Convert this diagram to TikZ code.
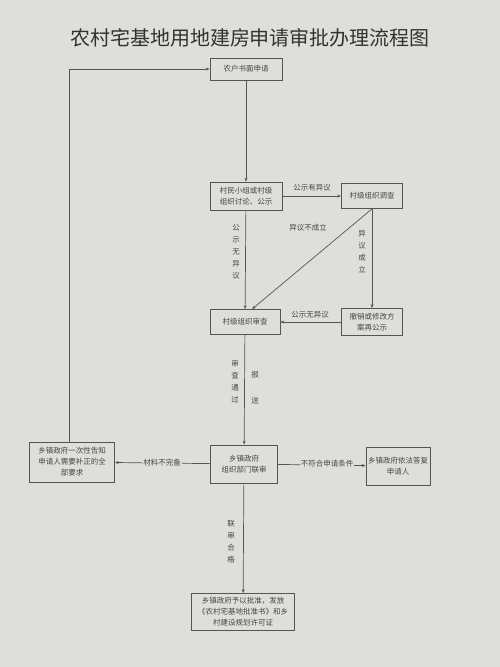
\documentclass[tikz,border=0pt]{standalone}
\usepackage{fontspec}
\setmainfont{Noto Sans CJK SC}
\usetikzlibrary{arrows.meta}
\definecolor{paper}{RGB}{222,222,218}
\definecolor{ink}{RGB}{85,85,85}
\definecolor{txt}{RGB}{70,70,70}
\begin{document}
\begin{tikzpicture}[x=1pt,y=-1pt,
  box/.style={draw=ink, line width=0.7pt, align=center, text=txt,
    font=\fontsize{7.5}{11}\selectfont, inner sep=1pt},
  lbl/.style={text=txt, font=\fontsize{7.5}{11}\selectfont, align=center, inner sep=1pt},
  vlbl/.style={text=txt, font=\fontsize{7.5}{12}\selectfont, align=center, inner sep=1pt},
  conn/.style={draw=ink, line width=0.7pt},
  arr/.style={conn, -{Stealth[length=4pt,width=3pt]}}]
\fill[paper] (0,0) rectangle (500,667);
\useasboundingbox (0,0) rectangle (500,667);

\node[text={rgb,255:red,50;green,50;blue,50}, font=\fontsize{20}{22}\selectfont] (title) at (250,38) {农村宅基地用地建房申请审批办理流程图};

\node[box, minimum width=72pt, minimum height=22pt] (b1) at (246,69) {农户书面申请};
\node[box, minimum width=72pt, minimum height=28pt] (b2) at (246,196) {村民小组或村级\\组织讨论、公示};
\node[box, minimum width=61pt, minimum height=25pt] (b3) at (372,196) {村级组织调查};
\node[box, minimum width=70pt, minimum height=25pt] (b4) at (245,322) {村级组织审查};
\node[box, minimum width=61pt, minimum height=27pt] (b5) at (372,322) {撤销或修改方\\案再公示};
\node[box, minimum width=67pt, minimum height=38pt] (b6) at (244,464) {乡镇政府\\组织部门联审};
\node[box, minimum width=85pt, minimum height=40pt] (b7) at (72,462) {乡镇政府一次性告知\\申请人需要补正的全\\部要求};
\node[box, minimum width=64pt, minimum height=38pt] (b8) at (398,466) {乡镇政府依法答复\\申请人};
\node[box, minimum width=103pt, minimum height=37pt] (b9) at (243,612) {乡镇政府予以批准，发放\\《农村宅基地批准书》和乡\\村建设规划许可证};

% connectors
\draw[arr] (b1) -- (b2);
\draw[arr] (b2) -- (b3);
\draw[arr] (b2) -- (b4);
\draw[arr] (b3.south) -- ([xshift=7pt]b4.north);
\draw[arr] (b3) -- (b5);
\draw[arr] (b5) -- (b4);
\draw[arr] (b4) -- (b6);
\draw[arr] (b6) -- (b7);
\draw[arr] (b6) -- (b8);
\draw[arr] (b6) -- (b9);
\draw[arr] ([xshift=-3pt]b7.north) |- (b1.west);

% labels
\node[lbl] (l1) at (312,188) {公示有异议};
\node[vlbl] (l2) at (236,252) {公\\示\\无\\异\\议};
\node[lbl] (l3) at (308,228) {异议不成立};
\node[vlbl] (l4) at (362,252) {异\\议\\成\\立};
\node[lbl] (l5) at (310,315) {公示无异议};
\node[vlbl] (l6) at (235,382) {审\\查\\通\\过};
\node[vlbl] (l7) at (255,388) {报\\[14pt]送};
\node[lbl, fill=paper] (l8) at (162,463) {材料不完备};
\node[lbl, fill=paper] (l9) at (327,464) {不符合申请条件};
\node[vlbl] (l10) at (231,542) {联\\审\\合\\格};
\end{tikzpicture}
\end{document}
